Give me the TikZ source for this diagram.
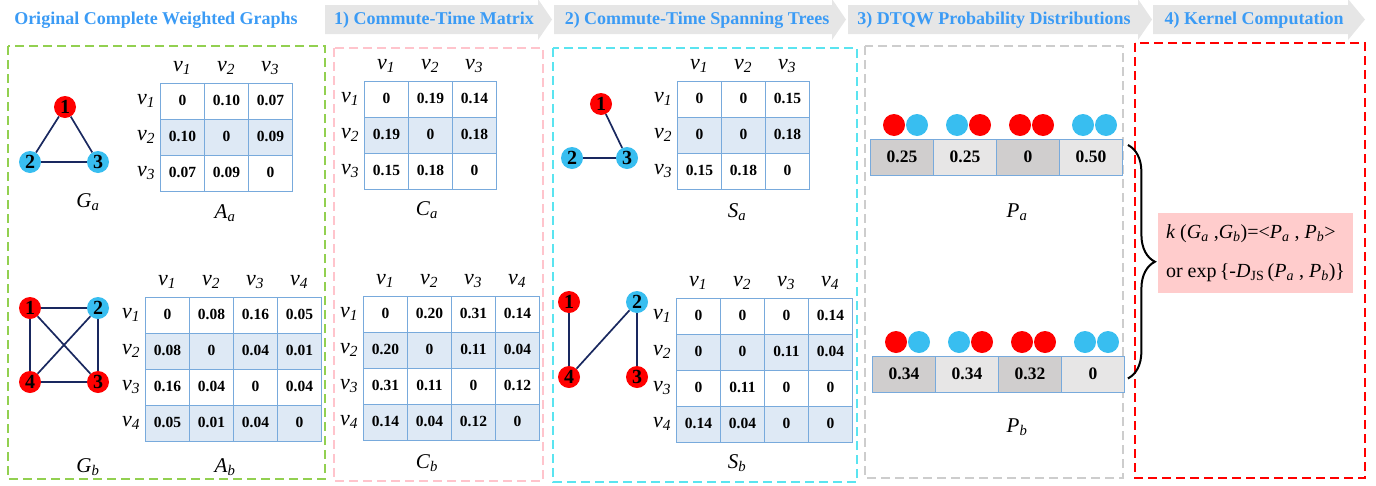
\documentclass[tikz,border=0pt]{standalone}
\usepackage{fontspec}
\setmainfont{Liberation Serif}
\usetikzlibrary{decorations.pathreplacing,calc}
\definecolor{hdrblue}{RGB}{59,155,245}
\definecolor{hgray}{RGB}{230,230,230}
\definecolor{gbox}{RGB}{146,208,80}
\definecolor{pbox}{RGB}{255,196,204}
\definecolor{cbox}{RGB}{90,228,240}
\definecolor{grbox}{RGB}{205,205,205}
\definecolor{matblue}{RGB}{120,170,220}
\definecolor{shade}{RGB}{222,233,245}
\definecolor{nred}{RGB}{255,0,0}
\definecolor{ncyan}{RGB}{56,190,240}
\definecolor{edgeblue}{RGB}{25,40,95}
\definecolor{pdark}{RGB}{208,206,206}
\definecolor{plight}{RGB}{231,230,230}
\definecolor{kpink}{RGB}{255,204,204}
\newcommand\fs[1]{\fontsize{#1}{#1}\selectfont}
\newcommand\vv[1]{\textit{v}\textsubscript{\textit{#1}}}
\newcommand\sbx[2]{\textit{#1}\textsubscript{\textit{#2}}}
\tikzset{
 hdr/.style={font=\fs{18}\bfseries, text=hdrblue, inner sep=0pt},
 mcell/.style={draw=matblue, line width=0.9pt, minimum width=44pt, minimum height=36pt, inner sep=0pt, anchor=north west, font=\fs{15.5}\bfseries},
 vlab/.style={font=\fs{22}, inner sep=0pt},
 mlab/.style={font=\fs{21}, inner sep=0pt},
 gnode/.style={circle, minimum size=22pt, inner sep=0pt, font=\fs{20}\bfseries},
 rn/.style={gnode, fill=nred},
 bn/.style={gnode, fill=ncyan},
 gedge/.style={draw=edgeblue, line width=1.7pt},
 dbox/.style={line width=1.8pt, dash pattern=on 9pt off 5pt},
 pcell/.style={draw=matblue, line width=0.9pt, minimum width=63pt, minimum height=36pt, inner sep=0pt, anchor=north west, font=\fs{17.5}\bfseries},
 pdot/.style={circle, minimum size=22pt, inner sep=0pt},
}
\newcommand\drawmatrix[5]{%
 \foreach \row [count=\i] in {#5} {%
   \ifodd\i\relax\def\fc{white}\else\def\fc{shade}\fi
   \foreach \val [count=\j] in \row {%
     \node[mcell, fill=\fc] (#1-\i-\j) at ({#2+(\j-1)*44},{#3+(\i-1)*36}) {\raisebox{2pt}{\val}};
   }%
 }%
 \foreach \k in {1,...,#4} {%
   \node[vlab] (#1-c\k) at ({#2+(\k-0.5)*44},{#3-15}) {\vv{\k}};
   \node[vlab] (#1-r\k) at ({#2-14},{#3+(\k-0.5)*36}) {\vv{\k}};
 }%
}
\newcommand\harrow[3]{\fill[hgray] (#1,5) -- (#2,5) -- (#2,-1) -- (#3,19.5) -- (#2,40) -- (#2,34) -- (#1,34) -- cycle;}
\newcommand\pbar[4]{% name, x0, y0, values
 \foreach \v [count=\j] in {#4} {%
   \ifodd\j\relax\def\fc{pdark}\else\def\fc{plight}\fi
   \node[pcell, fill=\fc] (#1-\j) at ({#2+(\j-1)*63},#3) {\raisebox{1pt}{\v}};
 }%
 \foreach \a/\b [count=\j] in {nred/ncyan,ncyan/nred,nred/nred,ncyan/ncyan} {%
   \node[pdot, fill=\a] (#1-d\j a) at ({#2+(\j-0.5)*63+4-11.5},{#3-14}) {};
   \node[pdot, fill=\b] (#1-d\j b) at ({#2+(\j-0.5)*63+4+11.5},{#3-14}) {};
 }%
}
\begin{document}
\begin{tikzpicture}[x=1pt,y=-1pt]
\useasboundingbox (0,0) rectangle (1376,485);
% header
\harrow{325}{538}{552}
\harrow{554}{832}{846}
\harrow{848}{1138}{1152}
\harrow{1153}{1348}{1365}
\node[hdr] (h0) at (156,20) {Original Complete Weighted Graphs};
\node[hdr] (h1) at (434,20) {1) Commute-Time Matrix};
\node[hdr] (h2) at (697,20) {2) Commute-Time Spanning Trees};
\node[hdr] (h3) at (994,20) {3) DTQW Probability Distributions};
\node[hdr] (h4) at (1254,20) {4) Kernel Computation};
% dashed boxes
\draw[dbox, draw=gbox] (8,46) rectangle (325,479);
\draw[dbox, draw=pbox] (334,48) rectangle (543,481);
\draw[dbox, draw=cbox] (553,48) rectangle (857,482);
\draw[dbox, draw=grbox] (865,46) rectangle (1123,478);
\draw[dbox, draw=nred] (1135,43) rectangle (1365,478);
% graph Ga
\node[rn] (ga1) at (65,107) {1};
\node[bn] (ga2) at (30,162) {2};
\node[bn] (ga3) at (98,162) {3};
\draw[gedge] (ga1) -- (ga2) (ga1) -- (ga3) (ga2) -- (ga3);
\node[mlab] (gal) at (88,202) {\sbx{G}{a}};
% graph Gb
\node[rn] (gb1) at (30,308) {1};
\node[bn] (gb2) at (98,308) {2};
\node[rn] (gb3) at (98,382) {3};
\node[rn] (gb4) at (30,382) {4};
\draw[gedge] (gb1) -- (gb2) (gb2) -- (gb3) (gb3) -- (gb4) (gb4) -- (gb1) (gb1) -- (gb3) (gb2) -- (gb4);
\node[mlab] (gbl) at (88,467) {\sbx{G}{b}};
% matrices
\drawmatrix{Aa}{160}{83}{3}{{0,0.10,0.07},{0.10,0,0.09},{0.07,0.09,0}}
\node[mlab] (Aal) at (225,213) {\sbx{A}{a}};
\drawmatrix{Ab}{145}{297}{4}{{0,0.08,0.16,0.05},{0.08,0,0.04,0.01},{0.16,0.04,0,0.04},{0.05,0.01,0.04,0}}
\node[mlab] (Abl) at (225,467) {\sbx{A}{b}};
\drawmatrix{Ca}{364}{81}{3}{{0,0.19,0.14},{0.19,0,0.18},{0.15,0.18,0}}
\node[mlab] (Cal) at (427,210) {\sbx{C}{a}};
\drawmatrix{Cb}{363}{296}{4}{{0,0.20,0.31,0.14},{0.20,0,0.11,0.04},{0.31,0.11,0,0.12},{0.14,0.04,0.12,0}}
\node[mlab] (Cbl) at (427,463) {\sbx{C}{b}};
\drawmatrix{Sa}{677}{81}{3}{{0,0,0.15},{0,0,0.18},{0.15,0.18,0}}
\node[mlab] (Sal) at (737,212) {\sbx{S}{a}};
\drawmatrix{Sb}{676}{298}{4}{{0,0,0,0.14},{0,0,0.11,0.04},{0,0.11,0,0},{0.14,0.04,0,0}}
\node[mlab] (Sbl) at (737,463) {\sbx{S}{b}};
% spanning trees
\node[rn] (sa1) at (601,104) {1};
\node[bn] (sa2) at (572,158) {2};
\node[bn] (sa3) at (627,158) {3};
\draw[gedge] (sa1) -- (sa3) (sa2) -- (sa3);
\node[rn] (sb1) at (569,302) {1};
\node[bn] (sb2) at (637,302) {2};
\node[rn] (sb3) at (637,377) {3};
\node[rn] (sb4) at (569,377) {4};
\draw[gedge] (sb1) -- (sb4) (sb4) -- (sb2) (sb2) -- (sb3);
% probability bars
\pbar{Pa}{870}{139}{0.25,0.25,0,0.50}
\node[mlab] (Pal) at (1017,212) {\sbx{P}{a}};
\pbar{Pb}{872}{356}{0.34,0.34,0.32,0}
\node[mlab] (Pbl) at (1017,427) {\sbx{P}{b}};
% brace
\draw[decorate, decoration={brace, amplitude=27pt}, line width=2pt] ($(Pa-4.north east)+(5,6)$) -- ($(Pb-4.east)+(3,4)$);
% kernel
\node[fill=kpink, minimum width=195pt, minimum height=80pt, inner sep=0pt, font=\fontsize{20}{39}\selectfont, align=left] (K) at (1255.5,253)
 {\textit{k} (\sbx{G}{a} ,\sbx{G}{b})=<\sbx{P}{a} , \sbx{P}{b}>\\or exp\,\{-\textit{D}\textsubscript{JS}\,(\sbx{P}{a} , \sbx{P}{b})\}};
\end{tikzpicture}
\end{document}
